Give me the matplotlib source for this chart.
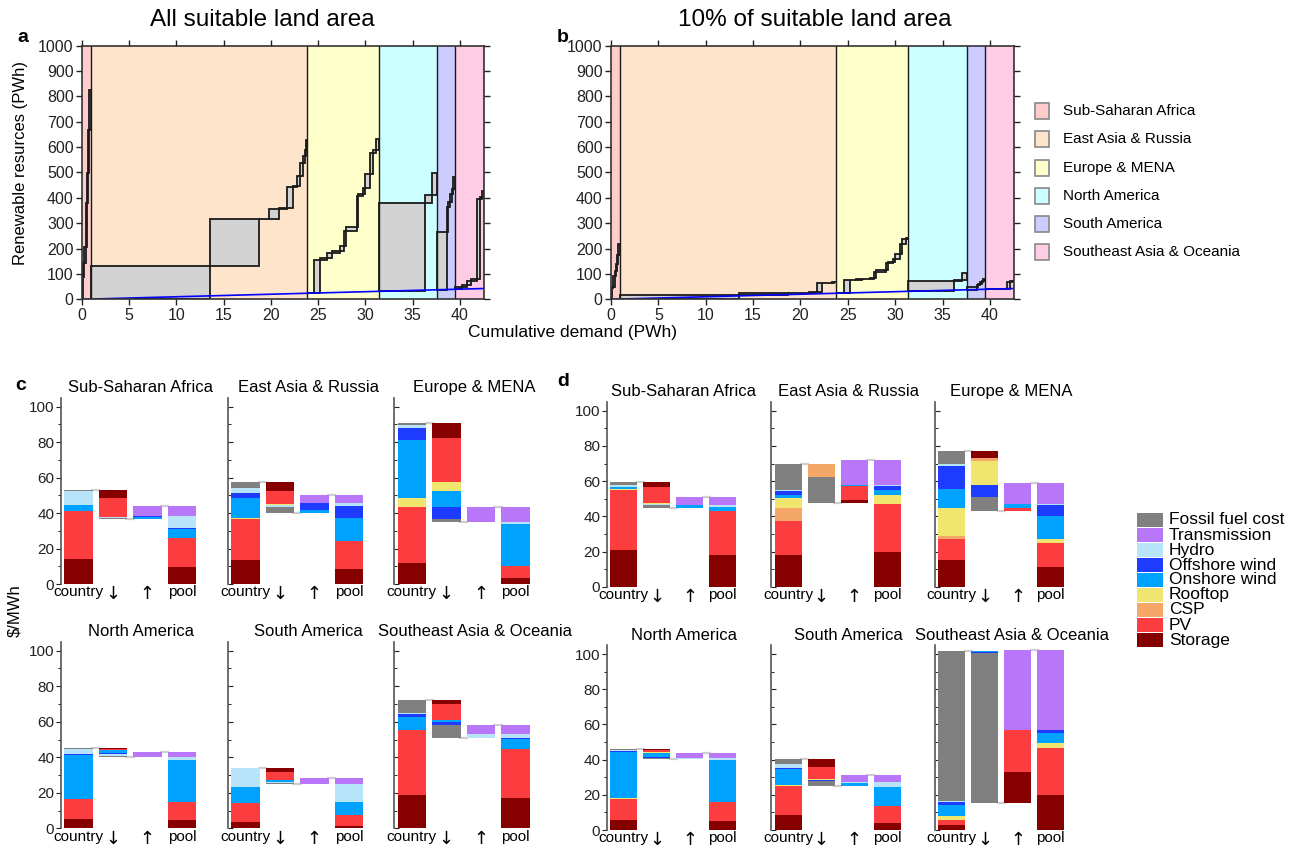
import numpy as np
import matplotlib
matplotlib.use('Agg')
import matplotlib.pyplot as plt
from matplotlib.patches import Rectangle

plt.rcParams['font.family'] = ['Liberation Sans', 'DejaVu Sans']

FIG_W, FIG_H = 1299, 847

# ---------------- panels a / b : cumulative demand vs. resources (PWh) ----------------
regions = ['Sub-Saharan Africa', 'East Asia & Russia', 'Europe & MENA',
           'North America', 'South America', 'Southeast Asia & Oceania']
region_colors = ['#ffcccc', '#ffe4cc', '#ffffcc', '#ccffff', '#ccccff', '#ffcce6']

# country demand (PWh), in plotting order within each region
ssa_demand = [0.07, 0.18, 0.17, 0.07, 0.18, 0.11, 0.14]
eas_demand = [12.62, 5.19, 1.09, 1.06, 0.85, 0.57, 0.50, 0.30, 0.25, 0.20, 0.13, 0.09]
eur_demand = [0.82, 0.63, 0.67, 0.60, 0.81, 0.42, 0.23, 1.12, 0.17, 0.53, 0.18, 0.52,
              0.29, 0.34, 0.30]
nam_demand = [4.85, 0.76, 0.52]
sam_demand = [1.06, 0.18, 0.20, 0.15, 0.15, 0.20]
sea_demand = [0.71, 0.52, 0.50, 0.56, 0.34, 0.20, 0.24]

# country renewable resources, all suitable land (PWh)
ssa_res_all = [89, 53, 65, 171, 119, 170, 158]
eas_res_all = [130, 184, 1, 41, 2, 85, 2, 39, 53, 26, 26, 40]
eur_res_all = [0, 131, 10, 16, 8, 20, 62, 15, 120, 8, 24, 58, 80, 12, 46]
nam_res_all = [347, 33, 86]
sam_res_all = [228, 98, 20, 30, 20, 50]
sea_res_all = [8, 8, 15, 9, 315, 8, 25]

# country renewable resources, 10% of suitable land (PWh)
ssa_res_10 = [45, 5, 40, 20, 30, 35, 43]
eas_res_10 = [17, 5, 1, 2, 1, 36, 1, 1, 1, 1, 1, 2]
eur_res_10 = [0, 53, 1, 1, 1, 3, 26, 5, 30, 3, 12, 21, 39, 18, 5]
nam_res_10 = [40, 4, 28]
sam_res_10 = [9, 8, 5, 7, 6, 7]
sea_res_10 = [0.5, 0.5, 1, 1, 27, 1, 1]

demands = [ssa_demand, eas_demand, eur_demand, nam_demand, sam_demand, sea_demand]
res_all = [ssa_res_all, eas_res_all, eur_res_all, nam_res_all, sam_res_all, sea_res_all]
res_10 = [ssa_res_10, eas_res_10, eur_res_10, nam_res_10, sam_res_10, sea_res_10]

# ---------------- panels c / d : levelized cost ($/MWh) ----------------
techs = ['Storage', 'PV', 'CSP', 'Rooftop', 'Onshore wind', 'Offshore wind',
         'Hydro', 'Transmission', 'Fossil fuel cost']
tech_colors = ['#870000', '#fc3d3f', '#f4a767', '#efe56f', '#00a2ff', '#1e3cff',
               '#b8e4fa', '#b877f8', '#808080']
bar_labels = ['country', '\u2193', '\u2191', 'pool']

# all suitable land area (c)
c_ssa_country = [14.0, 27.0, 0, 0, 3.5, 0, 8.0, 0, 0.5]
c_ssa_pool = [9.5, 16.5, 0, 0, 5.0, 0.5, 7.0, 5.5, 0]
c_eas_country = [13.5, 23.2, 0, 0.5, 11.3, 2.8, 2.8, 0, 3.4]
c_eas_pool = [8.5, 15.7, 0, 0, 13.0, 6.8, 1.7, 4.5, 0]
c_eur_country = [12.0, 31.5, 0, 5.1, 32.7, 6.8, 1.5, 0, 1.3]
c_eur_pool = [3.5, 6.5, 0, 0, 23.6, 0, 1.5, 8.4, 0]
c_nam_country = [5.3, 11.2, 0, 0, 24.8, 0.7, 2.8, 0, 0.6]
c_nam_pool = [4.7, 10.3, 0, 0, 23.5, 0, 1.7, 2.8, 0]
c_sam_country = [3.8, 10.6, 0, 0, 8.9, 0, 10.5, 0, 0.3]
c_sam_pool = [1.3, 6.2, 0, 0, 7.5, 0, 10.1, 3.4, 0]
c_sea_country = [19.0, 36.5, 0, 0, 7.0, 2.0, 0.5, 0, 7.0]
c_sea_pool = [17.0, 27.5, 0, 0, 5.8, 0.3, 2.4, 5.2, 0]

# 10% of suitable land area (d)
d_ssa_country = [20.8, 34.1, 0, 0.6, 1.3, 0, 1.0, 0, 1.7]
d_ssa_pool = [18.0, 25.0, 0, 0, 2.5, 0, 0.7, 4.9, 0]
d_eas_country = [18.0, 19.3, 7.6, 5.3, 2.1, 2.2, 0.6, 0, 14.8]
d_eas_pool = [19.9, 27.1, 0, 5.1, 2.8, 2.5, 0.6, 14.2, 0]
d_eur_country = [15.0, 12.0, 1.8, 16.0, 10.8, 13.0, 1.1, 0, 7.6]
d_eur_pool = [11.0, 13.7, 0, 2.2, 13.0, 6.5, 0.6, 12.2, 0]
d_nam_country = [5.7, 12.1, 0, 0.6, 25.9, 0.8, 0.5, 0, 0.4]
d_nam_pool = [5.1, 11.0, 0, 0, 23.7, 0, 1.1, 2.9, 0]
d_sam_country = [8.5, 16.7, 0, 0.6, 8.7, 0.7, 2.5, 0, 2.6]
d_sam_pool = [4.2, 9.6, 0, 0, 10.6, 0, 2.9, 4.1, 0]
d_sea_country = [2.8, 2.9, 0, 2.3, 6.2, 1.9, 0.4, 0, 85.2]
d_sea_pool = [19.9, 26.9, 0, 2.6, 5.7, 1.5, 0.4, 45.3, 0]

c_panels = [(c_ssa_country, c_ssa_pool), (c_eas_country, c_eas_pool), (c_eur_country, c_eur_pool),
            (c_nam_country, c_nam_pool), (c_sam_country, c_sam_pool), (c_sea_country, c_sea_pool)]
d_panels = [(d_ssa_country, d_ssa_pool), (d_eas_country, d_eas_pool), (d_eur_country, d_eur_pool),
            (d_nam_country, d_nam_pool), (d_sam_country, d_sam_pool), (d_sea_country, d_sea_pool)]


fig = plt.figure(figsize=(FIG_W / 100, FIG_H / 100), dpi=100)


def px_axes(left, top, width, height):
    """Axes placed in pixel coordinates measured from the top-left corner."""
    return fig.add_axes([left / FIG_W, 1 - (top + height) / FIG_H,
                         width / FIG_W, height / FIG_H])


def resource_panel(ax, resources):
    x0 = 0.0
    for color, dem, res in zip(region_colors, demands, resources):
        x1 = x0 + sum(dem)
        ax.axvspan(x0, x1, color=color, lw=0, zorder=0)
        # each country: box from previous cumulative point to the next one,
        # starting on the demand line at the region boundary
        x, y = x0, x0
        for d, r in zip(dem, res):
            ax.add_patch(Rectangle((x, y), d, r, fc='#d3d3d3', ec='#1a1a1a',
                                   lw=1.3, zorder=2))
            x += d
            y += r
        ax.axvline(x1, color='#1a1a1a', lw=1.0, zorder=3)
        x0 = x1
    ax.plot([0, x0], [0, x0], color='#0000ff', lw=1.2, zorder=4)
    ax.set_xlim(0, x0)
    ax.set_ylim(0, 1000)
    ax.set_xticks(range(0, 45, 5))
    ax.set_yticks(range(0, 1001, 100))
    ax.tick_params(direction='out', length=4, width=1, top=True, right=True,
                   labelsize=11.5, pad=2, colors='#222222')
    for s in ax.spines.values():
        s.set_color('#333333')
        s.set_linewidth(1.2)
        s.set_zorder(5)


def cost_panel(ax, country, pool, title, first_col):
    country = np.array(country, dtype=float)
    pool = np.array(pool, dtype=float)
    down = np.clip(country - pool, 0, None)
    up = np.clip(pool - country, 0, None)
    bw = 0.83
    top_c = country.sum()
    low = top_c - down.sum()
    top_p = pool.sum()

    ax.bar(np.full(9, 0), country, bottom=np.cumsum(country) - country,
           width=bw, color=tech_colors, lw=0, zorder=2)
    ax.bar(np.full(9, 1), down, bottom=top_c - np.cumsum(down),
           width=bw, color=tech_colors, lw=0, zorder=2)
    ax.bar(np.full(9, 2), up, bottom=low + np.cumsum(up) - up,
           width=bw, color=tech_colors, lw=0, zorder=2)
    ax.bar(np.full(9, 3), pool, bottom=np.cumsum(pool) - pool,
           width=bw, color=tech_colors, lw=0, zorder=2)

    # light connectors between the waterfall steps
    for x, lvl in [(0, top_c), (1, low), (2, top_p)]:
        ax.plot([x + bw / 2 - 0.05, x + 1 - bw / 2 + 0.05], [lvl, lvl],
                color='#cfcfcf', lw=1.6, zorder=1, solid_capstyle='butt')

    ax.set_xlim(-0.52, 4.15)
    ax.set_ylim(0, 105)
    ax.set_title(title, fontsize=12, pad=4)
    ax.set_xticks(range(4))
    ax.set_xticklabels(bar_labels, fontsize=11)
    for lbl in ax.get_xticklabels()[1:3]:
        lbl.set_fontfamily('DejaVu Sans')
        lbl.set_fontsize(13)
    ax.tick_params(axis='x', length=0, pad=1)
    ax.set_yticks(range(0, 101, 20))
    ax.set_yticks(range(10, 100, 20), minor=True)
    if first_col:
        ax.tick_params(axis='y', which='major', direction='out', length=3.5,
                       labelsize=11, pad=1, colors='#222222')
        ax.tick_params(axis='y', which='minor', direction='out', length=2)
    else:
        ax.tick_params(axis='y', which='major', direction='in', length=3.5,
                       labelleft=False, colors='#222222')
        ax.tick_params(axis='y', which='minor', direction='in', length=2)
    for side in ['top', 'right', 'bottom']:
        ax.spines[side].set_visible(False)
    ax.spines['left'].set_color('#555555')
    ax.spines['left'].set_linewidth(1.2)
    ax.set_facecolor('none')


# panels a and b
ax_a = px_axes(82, 45.7, 402, 253.6)
resource_panel(ax_a, res_all)
ax_b = px_axes(611, 45.7, 403, 253.6)
resource_panel(ax_b, res_10)

# panels c and d: 2 rows x 3 columns each
c_lefts = [60.5, 227.5, 394]
d_lefts = [606.6, 771.2, 934.6]
c_rows = [(584.0, 1.773), (828.3, 1.776)]
d_rows = [(586.7, 1.76), (830.0, 1.76)]

for group, lefts, rows, width in [(c_panels, c_lefts, c_rows, 161), (d_panels, d_lefts, d_rows, 154)]:
    for i, (country, pool) in enumerate(group):
        r, col = divmod(i, 3)
        y0, scale = rows[r]
        h = 105 * scale
        ax = px_axes(lefts[col], y0 - h, width, h)
        cost_panel(ax, country, pool, regions[i], col == 0)

# overlay in pixel coordinates for labels and legends
ov = fig.add_axes([0, 0, 1, 1])
ov.set_xlim(0, FIG_W)
ov.set_ylim(FIG_H, 0)
ov.axis('off')

ov.text(262, 20, 'All suitable land area', ha='center', va='center', fontsize=17.5)
ov.text(815, 20, '10% of suitable land area', ha='center', va='center', fontsize=17.5)
ov.text(573, 333, 'Cumulative demand (PWh)', ha='center', va='center', fontsize=12.5)
ov.text(21, 163, 'Renewable resurces (PWh)', ha='center', va='center',
        rotation=90, fontsize=12)
ov.text(15, 611, '$/MWh', ha='center', va='center', rotation=90, fontsize=12)
for letter, x, y in [('a', 22.5, 37), ('b', 563, 37), ('c', 20.5, 386), ('d', 563, 382)]:
    ov.text(x, y, letter, ha='center', va='center', fontsize=14, fontweight='bold')

# region legend (a/b)
for i, (name, color) in enumerate(zip(regions, region_colors)):
    yc = 111 + 28.3 * i
    ov.add_patch(Rectangle((1035, yc - 8), 14, 16, fc=color, ec='#888888', lw=1.2))
    ov.text(1063, yc, name, ha='left', va='center', fontsize=11)

# technology legend (c/d), top entry = last stacked component
for i, k in enumerate(range(len(techs) - 1, -1, -1)):
    yc = 520 + 15 * i
    ov.add_patch(Rectangle((1137, yc - 7), 26.5, 14, fc=tech_colors[k], lw=0))
    ov.text(1169, yc, techs[k], ha='left', va='center', fontsize=12.5)

fig.savefig('out.png', dpi=100)
